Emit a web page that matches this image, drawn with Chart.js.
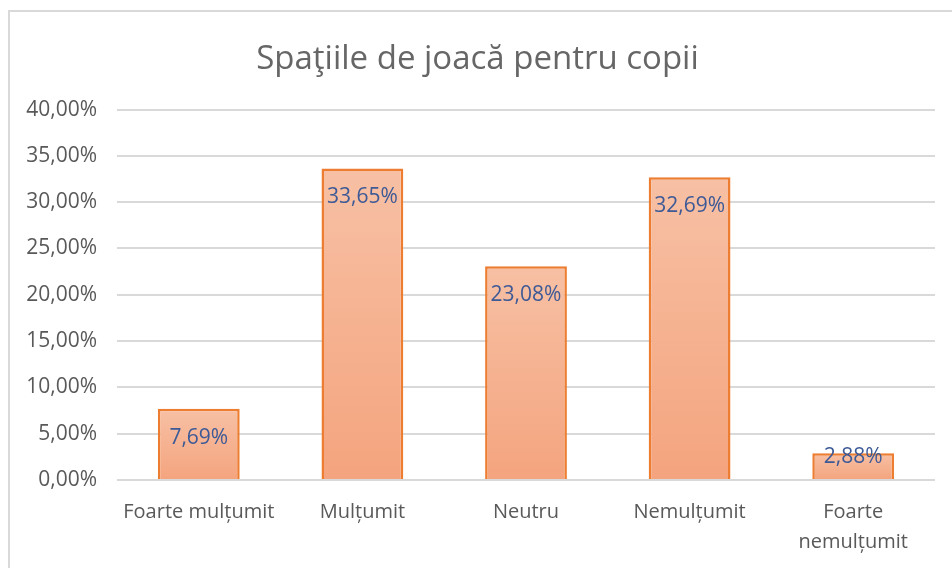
<!DOCTYPE html>
<html>
<head>
<meta charset="utf-8">
<script src="https://cdn.jsdelivr.net/npm/chart.js@4/dist/chart.umd.min.js"></script>
<style>
  html, body { margin: 0; padding: 0; background: #fff; overflow: hidden; }
  #wrap { position: relative; width: 952px; height: 568px; }
  #frame { position: absolute; left: 8px; top: 10px; width: 960px; height: 600px;
           border: 2px solid #d9d9d9; box-sizing: border-box; }
  canvas { position: absolute; left: 0; top: 0; }
</style>
</head>
<body>
<div id="wrap">
  <div id="frame"></div>
  <canvas id="chart" width="952" height="568"></canvas>
</div>
<script>
// Spaţiile de joacă pentru copii - bar chart

const categories = ['Foarte mulțumit', 'Mulțumit', 'Neutru', 'Nemulțumit', ['Foarte', 'nemulțumit']];
const percentages = [7.69, 33.65, 23.08, 32.69, 2.88];
const yTicks = [0, 5, 10, 15, 20, 25, 30, 35, 40];

const fontFamily = "'Open Sans', 'DejaVu Sans', sans-serif";
const grayText = '#595959';
const labelBlue = '#3d5a96';

function fmtPct(v) {
  return v.toFixed(2).replace('.', ',') + '%';
}

// per-bar vertical gradient, lighter at the top
function barFill(c) {
  const chart = c.chart;
  const y = chart.scales.y;
  if (!y || c.raw === undefined) return '#f5b08f';
  const top = y.getPixelForValue(c.raw);
  const base = y.getPixelForValue(0);
  if (!isFinite(top) || !isFinite(base)) return '#f5b08f';
  const g = chart.ctx.createLinearGradient(0, top, 0, base);
  g.addColorStop(0, '#f7c0a4');
  g.addColorStop(1, '#f4a47e');
  return g;
}

// value labels at the inside end of each bar
const valueLabels = {
  id: 'valueLabels',
  afterDatasetsDraw(chart) {
    const ctx = chart.ctx;
    const meta = chart.getDatasetMeta(0);
    ctx.save();
    ctx.font = '21px ' + fontFamily;
    ctx.fillStyle = labelBlue;
    ctx.textAlign = 'center';
    ctx.textBaseline = 'middle';
    meta.data.forEach((bar, i) => {
      const y = Math.min(bar.y + 29, bar.base - 22);
      ctx.fillText(fmtPct(percentages[i]), bar.x, y);
    });
    ctx.restore();
  }
};

new Chart(document.getElementById('chart'), {
  type: 'bar',
  data: {
    labels: categories,
    datasets: [{
      data: percentages,
      backgroundColor: barFill,
      borderColor: '#ed7d31',
      borderWidth: 2.5,
      borderSkipped: 'bottom',
      categoryPercentage: 1,
      barPercentage: 0.5
    }]
  },
  options: {
    responsive: false,
    animation: false,
    layout: { padding: { left: 20, right: 17, top: 0, bottom: 0 } },
    plugins: {
      legend: { display: false },
      tooltip: { enabled: false },
      title: {
        display: true,
        text: 'Spaţiile de joacă pentru copii',
        color: '#666666',
        font: { family: fontFamily, size: 33, weight: 'normal', lineHeight: 1.2 },
        padding: { top: 40, bottom: 30 }
      }
    },
    scales: {
      x: {
        grid: { display: false },
        border: { display: false },
        ticks: {
          color: grayText,
          font: { family: fontFamily, size: 20, lineHeight: '30px' },
          padding: 9,
          maxRotation: 0,
          autoSkip: false
        },
        afterFit(s) { s.height = 88; }
      },
      y: {
        min: 0,
        max: 40,
        afterBuildTicks(s) { s.ticks = yTicks.map(v => ({ value: v })); },
        grid: { color: '#d9d9d9', lineWidth: 2, drawTicks: false },
        border: { display: false },
        ticks: {
          color: grayText,
          font: { family: fontFamily, size: 21 },
          padding: 20,
          callback: v => fmtPct(v)
        },
        afterFit(s) { s.width = 97; }
      }
    }
  },
  plugins: [valueLabels]
});
</script>
</body>
</html>
